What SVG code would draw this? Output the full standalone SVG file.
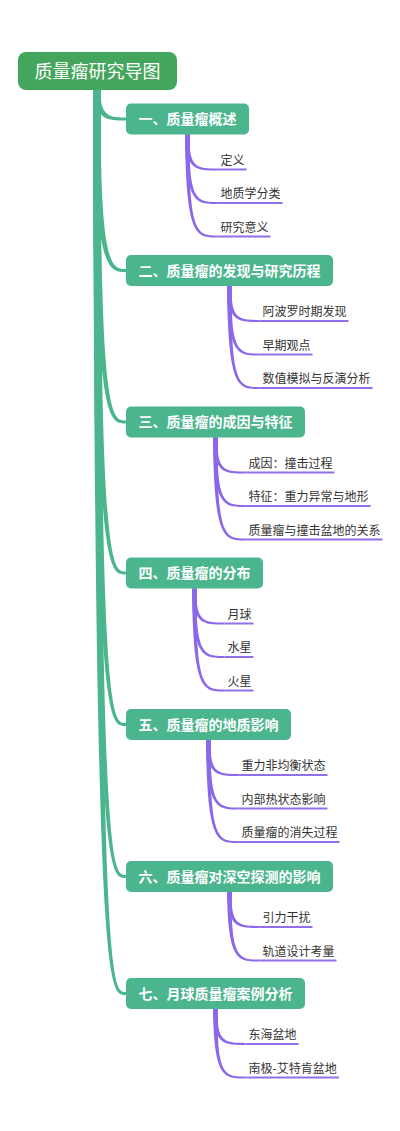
<svg xmlns="http://www.w3.org/2000/svg" width="400" height="1131" viewBox="0 0 400 1131">
<style>
.root{fill:#44a65c}
.rt{fill:#fff;font-family:"Noto Sans CJK SC","Noto Sans",sans-serif;font-size:18px;text-anchor:middle}
.nb{fill:#4bb58e}
.nt{fill:#fff;font-family:"Noto Sans CJK SC","Noto Sans",sans-serif;font-size:14px;font-weight:bold;text-anchor:middle}
.br{fill:#4bb58e}
.lc{fill:#8b68ea}
.ul{stroke:#8f70ea;stroke-width:2;fill:none}
.lt{fill:#333;font-family:"Noto Sans CJK SC","Noto Sans",sans-serif;font-size:12px}
</style>
<rect width="400" height="1131" fill="#fff"/>
<g id="connectors">
<path class="br" d="M93,90 C95,120.5 108,120.5 126,120.5 L126,117.5 C112,117.5 99,117.5 101,90 Z"/>
<path class="br" d="M93,90 C95,272 108,272 126,272 L126,269 C112,269 99,269 101,90 Z"/>
<path class="br" d="M93,90 C95,423.5 108,423.5 126,423.5 L126,420.5 C112,420.5 99,420.5 101,90 Z"/>
<path class="br" d="M93,90 C95,574.5 108,574.5 126,574.5 L126,571.5 C112,571.5 99,571.5 101,90 Z"/>
<path class="br" d="M93,90 C95,726 108,726 126,726 L126,723 C112,723 99,723 101,90 Z"/>
<path class="br" d="M93,90 C95,878 108,878 126,878 L126,875 C112,875 99,875 101,90 Z"/>
<path class="br" d="M93,90 C95,995 108,995 126,995 L126,992 C112,992 99,992 101,90 Z"/>
<!-- N1 cx 187.5 bot 134.5 sx 217.5 -->
<path class="lc" d="M185,134.5 C186,170.5 196,170.5 217.5,170.5 L217.5,168.5 C198,168.5 188,168.5 190,134.5 Z"/>
<path class="lc" d="M185,134.5 C186,204 196,204 217.5,204 L217.5,202 C198,202 188,202 190,134.5 Z"/>
<path class="lc" d="M185,134.5 C186,237.5 196,237.5 217.5,237.5 L217.5,235.5 C198,235.5 188,235.5 190,134.5 Z"/>
<!-- N2 cx 229.5 bot 286 sx 259.5 -->
<path class="lc" d="M227,286 C228,322 238,322 259.5,322 L259.5,320 C240,320 230,320 232,286 Z"/>
<path class="lc" d="M227,286 C228,355.5 238,355.5 259.5,355.5 L259.5,353.5 C240,353.5 230,353.5 232,286 Z"/>
<path class="lc" d="M227,286 C228,389 238,389 259.5,389 L259.5,387 C240,387 230,387 232,286 Z"/>
<!-- N3 cx 215.5 bot 437.5 sx 245.5 -->
<path class="lc" d="M213,437.5 C214,473.5 224,473.5 245.5,473.5 L245.5,471.5 C226,471.5 216,471.5 218,437.5 Z"/>
<path class="lc" d="M213,437.5 C214,507 224,507 245.5,507 L245.5,505 C226,505 216,505 218,437.5 Z"/>
<path class="lc" d="M213,437.5 C214,540.5 224,540.5 245.5,540.5 L245.5,538.5 C226,538.5 216,538.5 218,437.5 Z"/>
<!-- N4 cx 194.5 bot 588.5 sx 224.5 -->
<path class="lc" d="M192,588.5 C193,624.5 203,624.5 224.5,624.5 L224.5,622.5 C205,622.5 195,622.5 197,588.5 Z"/>
<path class="lc" d="M192,588.5 C193,658 203,658 224.5,658 L224.5,656 C205,656 195,656 197,588.5 Z"/>
<path class="lc" d="M192,588.5 C193,691.5 203,691.5 224.5,691.5 L224.5,689.5 C205,689.5 195,689.5 197,588.5 Z"/>
<!-- N5 cx 208.5 bot 740 sx 238.5 -->
<path class="lc" d="M206,740 C207,776 217,776 238.5,776 L238.5,774 C219,774 209,774 211,740 Z"/>
<path class="lc" d="M206,740 C207,809.5 217,809.5 238.5,809.5 L238.5,807.5 C219,807.5 209,807.5 211,740 Z"/>
<path class="lc" d="M206,740 C207,843 217,843 238.5,843 L238.5,841 C219,841 209,841 211,740 Z"/>
<!-- N6 cx 229.5 bot 892 sx 259.5 -->
<path class="lc" d="M227,892 C228,928 238,928 259.5,928 L259.5,926 C240,926 230,926 232,892 Z"/>
<path class="lc" d="M227,892 C228,961.5 238,961.5 259.5,961.5 L259.5,959.5 C240,959.5 230,959.5 232,892 Z"/>
<!-- N7 cx 215.5 bot 1009 sx 245.5 -->
<path class="lc" d="M213,1009 C214,1045 224,1045 245.5,1045 L245.5,1043 C226,1043 216,1043 218,1009 Z"/>
<path class="lc" d="M213,1009 C214,1078.5 224,1078.5 245.5,1078.5 L245.5,1076.5 C226,1076.5 216,1076.5 218,1009 Z"/>
</g>
<g id="root">
<rect class="root" x="18" y="52" width="159" height="38" rx="8"/>
<text class="rt" x="97.5" y="77.5">质量瘤研究导图</text>
</g>
<g id="n1"><rect class="nb" x="126" y="103.5" width="123" height="31" rx="5"/><text class="nt" x="187.5" y="124">一、质量瘤概述</text></g>
<g id="n2"><rect class="nb" x="126" y="255" width="207" height="31" rx="5"/><text class="nt" x="229.5" y="275.5">二、质量瘤的发现与研究历程</text></g>
<g id="n3"><rect class="nb" x="126" y="406.5" width="179" height="31" rx="5"/><text class="nt" x="215.5" y="427">三、质量瘤的成因与特征</text></g>
<g id="n4"><rect class="nb" x="126" y="557.5" width="137" height="31" rx="5"/><text class="nt" x="194.5" y="578">四、质量瘤的分布</text></g>
<g id="n5"><rect class="nb" x="126" y="709" width="165" height="31" rx="5"/><text class="nt" x="208.5" y="729.5">五、质量瘤的地质影响</text></g>
<g id="n6"><rect class="nb" x="126" y="861" width="207" height="31" rx="5"/><text class="nt" x="229.5" y="881.5">六、质量瘤对深空探测的影响</text></g>
<g id="n7"><rect class="nb" x="126" y="978" width="179" height="31" rx="5"/><text class="nt" x="215.5" y="998.5">七、月球质量瘤案例分析</text></g>
<g id="l1a"><line class="ul" x1="217.5" y1="169.5" x2="246.5" y2="169.5"/><text class="lt" x="220.5" y="164.5">定义</text></g>
<g id="l1b"><line class="ul" x1="217.5" y1="203" x2="282.5" y2="203"/><text class="lt" x="220.5" y="198">地质学分类</text></g>
<g id="l1c"><line class="ul" x1="217.5" y1="236.5" x2="270.5" y2="236.5"/><text class="lt" x="220.5" y="231.5">研究意义</text></g>
<g id="l2a"><line class="ul" x1="259.5" y1="321" x2="348.5" y2="321"/><text class="lt" x="262.5" y="316">阿波罗时期发现</text></g>
<g id="l2b"><line class="ul" x1="259.5" y1="354.5" x2="312.5" y2="354.5"/><text class="lt" x="262.5" y="349.5">早期观点</text></g>
<g id="l2c"><line class="ul" x1="259.5" y1="388" x2="372.5" y2="388"/><text class="lt" x="262.5" y="383">数值模拟与反演分析</text></g>
<g id="l3a"><line class="ul" x1="245.5" y1="472.5" x2="334.5" y2="472.5"/><text class="lt" x="248.5" y="467.5">成因：撞击过程</text></g>
<g id="l3b"><line class="ul" x1="245.5" y1="506" x2="370.5" y2="506"/><text class="lt" x="248.5" y="501">特征：重力异常与地形</text></g>
<g id="l3c"><line class="ul" x1="245.5" y1="539.5" x2="382.5" y2="539.5"/><text class="lt" x="248.5" y="534.5">质量瘤与撞击盆地的关系</text></g>
<g id="l4a"><line class="ul" x1="224.5" y1="623.5" x2="253.5" y2="623.5"/><text class="lt" x="227.5" y="618.5">月球</text></g>
<g id="l4b"><line class="ul" x1="224.5" y1="657" x2="253.5" y2="657"/><text class="lt" x="227.5" y="652">水星</text></g>
<g id="l4c"><line class="ul" x1="224.5" y1="690.5" x2="253.5" y2="690.5"/><text class="lt" x="227.5" y="685.5">火星</text></g>
<g id="l5a"><line class="ul" x1="238.5" y1="775" x2="327.5" y2="775"/><text class="lt" x="241.5" y="770">重力非均衡状态</text></g>
<g id="l5b"><line class="ul" x1="238.5" y1="808.5" x2="327.5" y2="808.5"/><text class="lt" x="241.5" y="803.5">内部热状态影响</text></g>
<g id="l5c"><line class="ul" x1="238.5" y1="842" x2="339.5" y2="842"/><text class="lt" x="241.5" y="837">质量瘤的消失过程</text></g>
<g id="l6a"><line class="ul" x1="259.5" y1="927" x2="312.5" y2="927"/><text class="lt" x="262.5" y="922">引力干扰</text></g>
<g id="l6b"><line class="ul" x1="259.5" y1="960.5" x2="336.5" y2="960.5"/><text class="lt" x="262.5" y="955.5">轨道设计考量</text></g>
<g id="l7a"><line class="ul" x1="245.5" y1="1044" x2="298.5" y2="1044"/><text class="lt" x="248.5" y="1039">东海盆地</text></g>
<g id="l7b"><line class="ul" x1="245.5" y1="1077.5" x2="339" y2="1077.5"/><text class="lt" x="248.5" y="1072.5">南极-艾特肯盆地</text></g>
</svg>
